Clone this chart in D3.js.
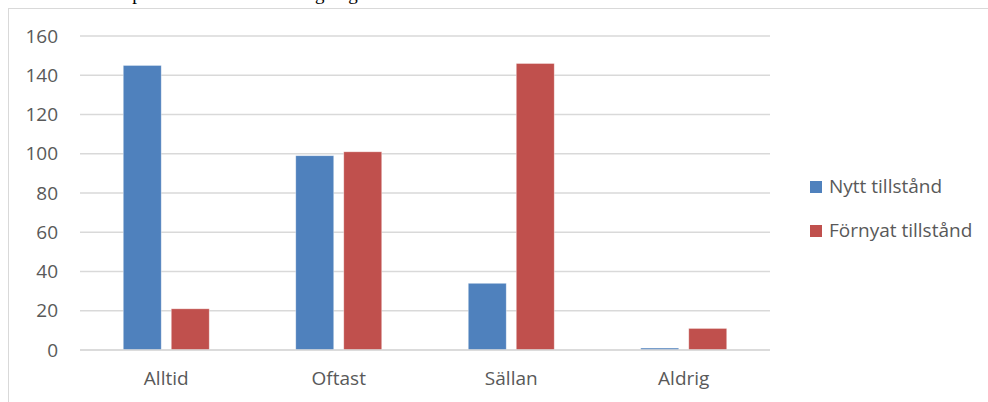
<!DOCTYPE html>
<html>
<head>
<meta charset="utf-8">
<script src="https://cdn.jsdelivr.net/npm/d3@7"></script>
<style>
  body { margin: 0; background: #fff; }
  text { font-family: "Open Sans", Lato, sans-serif; }
</style>
</head>
<body>
<div id="chart"></div>
<script>
// data
const categories = ["Alltid", "Oftast", "Sällan", "Aldrig"];
const seriesNames = ["Nytt tillstånd", "Förnyat tillstånd"];
const nyttValues = [145, 99, 34, 1];
const fornyatValues = [21, 101, 146, 11];
const yTicks = [0, 20, 40, 60, 80, 100, 120, 140, 160];
const colors = ["#4f81bd", "#c0504d"];

const width = 988, height = 402;
const labelFont = "'Open Sans', Lato, sans-serif";
const fontSize = "19px";
const svg = d3.select("#chart").append("svg")
  .attr("width", width)
  .attr("height", height);

// title cut at the top edge, only descenders show
svg.append("text")
  .attr("x", 30)
  .attr("y", 0)
  .style("font-family", "'Liberation Serif', serif")
  .style("font-size", "19px")
  .attr("fill", "#000")
  .text("Hur ofta kompletterades ansökan enligt lag");

// chart frame
svg.append("rect")
  .attr("x", 8.5).attr("y", 8.5)
  .attr("width", 990).attr("height", 400)
  .attr("fill", "none")
  .attr("stroke", "#d9d9d9");

const x0 = d3.scaleBand().domain(categories).range([80, 770]);
const x1 = d3.scaleBand().domain(seriesNames)
  .range([43.25, 129.25])
  .paddingInner(0.2083);
const y = d3.scaleLinear().domain([0, 160]).range([350, 36]);

// gridlines
svg.append("g").selectAll("line")
  .data(yTicks)
  .enter().append("line")
  .attr("x1", 80).attr("x2", 770)
  .attr("y1", d => y(d)).attr("y2", d => y(d))
  .attr("stroke", "#d9d9d9")
  .attr("stroke-width", 1.5);

// y axis labels
const yAxis = svg.append("g")
  .attr("transform", "translate(58,0)")
  .call(d3.axisLeft(y).tickValues(yTicks).tickSize(0).tickPadding(0));
yAxis.select(".domain").remove();
yAxis.selectAll("text")
  .style("font-family", labelFont)
  .style("font-size", fontSize)
  .attr("fill", "#595959");

// bars
const rows = categories.map((c, i) => ({ cat: c, vals: [nyttValues[i], fornyatValues[i]] }));
const groups = svg.append("g").selectAll("g")
  .data(rows)
  .enter().append("g")
  .attr("transform", d => `translate(${x0(d.cat)},0)`);

groups.selectAll("rect")
  .data(d => d.vals.map((v, j) => ({ name: seriesNames[j], v, j })))
  .enter().append("rect")
  .attr("x", d => x1(d.name))
  .attr("width", x1.bandwidth())
  .attr("y", d => y(d.v))
  .attr("height", d => y(0) - y(d.v))
  .attr("fill", d => colors[d.j])
  .attr("stroke", "#fff")
  .attr("stroke-opacity", 0.5)
  .attr("stroke-width", 0.75);

// baseline
svg.append("line")
  .attr("x1", 80).attr("x2", 770)
  .attr("y1", y(0)).attr("y2", y(0))
  .attr("stroke", "#d9d9d9")
  .attr("stroke-width", 1.5);

// x axis labels
const xAxis = svg.append("g")
  .attr("transform", "translate(0,371)")
  .call(d3.axisBottom(x0).tickSize(0).tickPadding(0));
xAxis.select(".domain").remove();
xAxis.selectAll("text")
  .style("font-family", labelFont)
  .style("font-size", fontSize)
  .attr("fill", "#595959");

// legend
const legend = svg.append("g").selectAll("g")
  .data(seriesNames)
  .enter().append("g")
  .attr("transform", (d, i) => `translate(810,${181 + i * 44})`);
legend.append("rect")
  .attr("width", 12).attr("height", 12)
  .attr("fill", (d, i) => colors[i]);
legend.append("text")
  .attr("x", 19).attr("y", 12)
  .style("font-family", labelFont)
  .style("font-size", fontSize)
  .attr("fill", "#595959")
  .text(d => d);
</script>
</body>
</html>
